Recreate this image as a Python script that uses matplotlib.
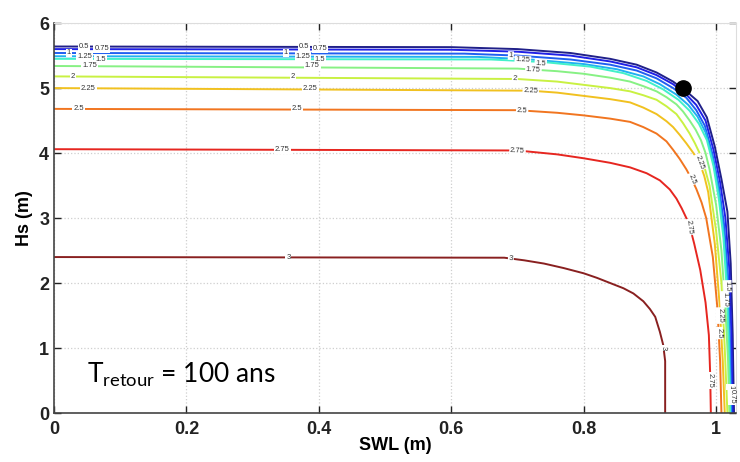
"""
Iso-contours of the joint return level (SWL, Hs) for a 100-year return period.
"""

import matplotlib.pyplot as plt
from matplotlib.colors import Normalize

levels = [0.5, 0.75, 1.0, 1.25, 1.5, 1.75, 2.0, 2.25, 2.5, 2.75, 3.0]

# contour lines, one pair of lists per level
swl_050 = [0, 0.60, 0.70, 0.78, 0.84, 0.88, 0.91, 0.935, 0.955, 0.972, 0.986, 0.998, 1.008, 1.017, 1.022, 1.025, 1.027]
hs_050 = [5.64, 5.63, 5.60, 5.54, 5.45, 5.36, 5.24, 5.10, 4.95, 4.80, 4.55, 4.10, 3.60, 3.10, 2.30, 1.20, 0]

swl_075 = [0, 0.60, 0.70, 0.78, 0.84, 0.88, 0.91, 0.935, 0.955, 0.970, 0.984, 0.996, 1.006, 1.014, 1.020, 1.023, 1.025]
hs_075 = [5.60, 5.59, 5.56, 5.50, 5.41, 5.32, 5.20, 5.06, 4.90, 4.74, 4.50, 4.05, 3.55, 3.00, 2.20, 1.20, 0]

swl_100 = [0, 0.62, 0.70, 0.78, 0.84, 0.88, 0.91, 0.935, 0.955, 0.970, 0.983, 0.994, 1.004, 1.012, 1.018, 1.021, 1.023]
hs_100 = [5.54, 5.53, 5.50, 5.44, 5.36, 5.27, 5.15, 5.00, 4.85, 4.66, 4.42, 4.00, 3.50, 2.90, 2.10, 1.10, 0]

swl_125 = [0, 0.64, 0.72, 0.80, 0.85, 0.89, 0.915, 0.94, 0.958, 0.972, 0.984, 0.995, 1.004, 1.011, 1.017, 1.020, 1.022]
hs_125 = [5.49, 5.48, 5.44, 5.37, 5.29, 5.18, 5.06, 4.90, 4.74, 4.56, 4.32, 3.90, 3.40, 2.80, 2.00, 1.00, 0]

swl_150 = [0, 0.66, 0.74, 0.81, 0.86, 0.895, 0.92, 0.943, 0.960, 0.974, 0.986, 0.996, 1.004, 1.011, 1.016, 1.019, 1.021]
hs_150 = [5.45, 5.44, 5.40, 5.33, 5.23, 5.11, 4.98, 4.82, 4.65, 4.45, 4.20, 3.80, 3.30, 2.70, 1.90, 1.00, 0]

swl_175 = [0, 0.70, 0.76, 0.80, 0.84, 0.87, 0.89, 0.91, 0.925, 0.94, 0.950, 0.960, 0.969, 0.977, 0.984, 0.990, 1.000, 1.008, 1.014, 1.018, 1.020]
hs_175 = [5.34, 5.30, 5.26, 5.22, 5.16, 5.10, 5.03, 4.95, 4.86, 4.75, 4.64, 4.50, 4.36, 4.20, 4.00, 3.75, 3.20, 2.50, 1.60, 0.80, 0]

swl_200 = [0, 0.70, 0.76, 0.80, 0.84, 0.87, 0.89, 0.91, 0.925, 0.94, 0.950, 0.96, 0.968, 0.975, 0.983, 0.990, 1.000, 1.008, 1.013, 1.017]
hs_200 = [5.18, 5.14, 5.10, 5.05, 5.00, 4.95, 4.89, 4.82, 4.72, 4.60, 4.46, 4.30, 4.15, 4.00, 3.76, 3.50, 2.80, 2.00, 1.00, 0]

swl_225 = [0, 0.72, 0.76, 0.80, 0.84, 0.87, 0.89, 0.91, 0.925, 0.935, 0.945, 0.955, 0.965, 0.975, 0.982, 0.988, 0.998, 1.005, 1.010, 1.013]
hs_225 = [5.00, 4.96, 4.93, 4.88, 4.83, 4.78, 4.70, 4.60, 4.49, 4.40, 4.28, 4.15, 4.01, 3.85, 3.65, 3.40, 2.60, 1.70, 0.80, 0]

swl_250 = [0, 0.70, 0.76, 0.80, 0.84, 0.87, 0.89, 0.91, 0.925, 0.935, 0.945, 0.955, 0.963, 0.970, 0.978, 0.985, 0.995, 1.002, 1.006, 1.008]
hs_250 = [4.68, 4.66, 4.62, 4.58, 4.53, 4.48, 4.40, 4.30, 4.18, 4.05, 3.91, 3.75, 3.60, 3.45, 3.24, 3.00, 2.40, 1.60, 0.80, 0]

swl_275 = [0, 0.70, 0.76, 0.80, 0.84, 0.87, 0.895, 0.915, 0.93, 0.94, 0.948, 0.955, 0.962, 0.967, 0.976, 0.984, 0.989, 0.991, 0.992]
hs_275 = [4.06, 4.04, 3.98, 3.92, 3.85, 3.78, 3.69, 3.58, 3.44, 3.30, 3.15, 3.00, 2.80, 2.60, 2.20, 1.70, 1.20, 0.60, 0]

swl_300 = [0, 0.68, 0.71, 0.74, 0.77, 0.80, 0.82, 0.84, 0.86, 0.875, 0.89, 0.90, 0.908, 0.915, 0.920, 0.923, 0.923]
hs_300 = [2.40, 2.39, 2.35, 2.30, 2.23, 2.15, 2.08, 2.00, 1.92, 1.84, 1.72, 1.60, 1.48, 1.25, 1.05, 0.80, 0]

curves = [
    (swl_050, hs_050), (swl_075, hs_075), (swl_100, hs_100), (swl_125, hs_125),
    (swl_150, hs_150), (swl_175, hs_175), (swl_200, hs_200), (swl_225, hs_225),
    (swl_250, hs_250), (swl_275, hs_275), (swl_300, hs_300),
]

# inline contour labels: text, SWL, Hs, rotation
label_text = ["0.5", "0.75", "1", "1.25", "1.5", "1.75", "2", "2.25", "2.5",
              "0.5", "0.75", "1", "1.25", "1.5", "1.75", "2", "2.25", "2.5", "2.75", "3",
              "1", "1.25", "1.5", "1.75", "2", "2.25", "2.5", "2.75", "3",
              "2.25", "2.5", "2.75", "3", "2.25", "2.5", "2.75", "1.5", "1.75", "1", "0.75"]
label_swl = [0.045, 0.072, 0.022, 0.046, 0.070, 0.054, 0.028, 0.052, 0.037,
             0.378, 0.402, 0.350, 0.376, 0.402, 0.390, 0.361, 0.387, 0.367, 0.345, 0.354,
             0.690, 0.708, 0.735, 0.724, 0.696, 0.720, 0.707, 0.700, 0.690,
             0.975, 0.963, 0.959, 0.920, 1.006, 1.004, 0.991, 1.017, 1.013, 1.022, 1.024]
label_hs = [5.645, 5.605, 5.54, 5.49, 5.44, 5.34, 5.18, 5.00, 4.68,
            5.645, 5.605, 5.54, 5.49, 5.44, 5.34, 5.18, 5.00, 4.68, 4.06, 2.40,
            5.50, 5.43, 5.38, 5.28, 5.14, 4.95, 4.65, 4.03, 2.38,
            3.86, 3.60, 2.86, 1.00, 1.50, 1.23, 0.50, 1.95, 1.75, 0.40, 0.25]
label_rot = [0] * 20 + [-3] * 9 + [-70, -68, -82, -90, -88, -88, -90, -88, -88, -90, -90]

point_swl = [0.95]
point_hs = [5.0]

x_ticks = [0, 0.2, 0.4, 0.6, 0.8, 1]
y_ticks = [0, 1, 2, 3, 4, 5, 6]

plt.rcParams["font.family"] = ["Liberation Sans", "DejaVu Sans"]

fig = plt.figure(figsize=(7.4, 4.62), dpi=100)
ax = fig.add_axes([0.073, 0.106, 0.9216, 0.844])

norm = Normalize(vmin=levels[0], vmax=levels[-1])
cmap = plt.cm.jet
for lev, (xs, ys) in zip(levels, curves):
    r, g, b, _ = cmap(norm(lev))
    # slightly washed-out jet, like the scanned figure
    col = (0.82 * r + 0.18 * 0.7, 0.82 * g + 0.18 * 0.7, 0.82 * b + 0.18 * 0.7)
    ax.plot(xs, ys, color=col, lw=1.4, zorder=2)

for txt, x, y, rot in zip(label_text, label_swl, label_hs, label_rot):
    ax.text(x, y, txt, fontsize=5.5, color="#333333", rotation=rot,
            ha="center", va="center", rotation_mode="anchor", zorder=3,
            bbox=dict(facecolor="white", edgecolor="none", pad=0.6))

ax.plot(point_swl, point_hs, "o", color="black", markersize=11, zorder=5)

ax.set_xlim(0, 1.03)
ax.set_ylim(0, 6)
ax.set_xticks(x_ticks)
ax.set_xticklabels(["0", "0.2", "0.4", "0.6", "0.8", "1"])
ax.set_yticks(y_ticks)
ax.grid(True, color="#cfcfcf", linestyle=":", linewidth=0.9)
ax.set_axisbelow(True)

ax.tick_params(direction="in", length=5, width=1, top=True, right=True,
               labelsize=13, colors="#222222")
ax.tick_params(axis="x", pad=6)
for lab in ax.get_xticklabels() + ax.get_yticklabels():
    lab.set_fontweight("bold")
for side in ["left", "bottom"]:
    ax.spines[side].set_color("#444444")
    ax.spines[side].set_linewidth(1.2)
for side in ["top", "right"]:
    ax.spines[side].set_color("#dddddd")

ax.set_xlabel("SWL (m)", fontsize=13, fontweight="bold", labelpad=-1)
ax.set_ylabel("Hs (m)", fontsize=13, fontweight="bold", labelpad=4)

ax.text(0.05, 0.47, r"T$_{\mathregular{retour}}$ = 100 ans", fontsize=19,
        family=["Lato", "DejaVu Sans"], va="baseline", ha="left", zorder=4)

fig.savefig("out.png", dpi=100)
